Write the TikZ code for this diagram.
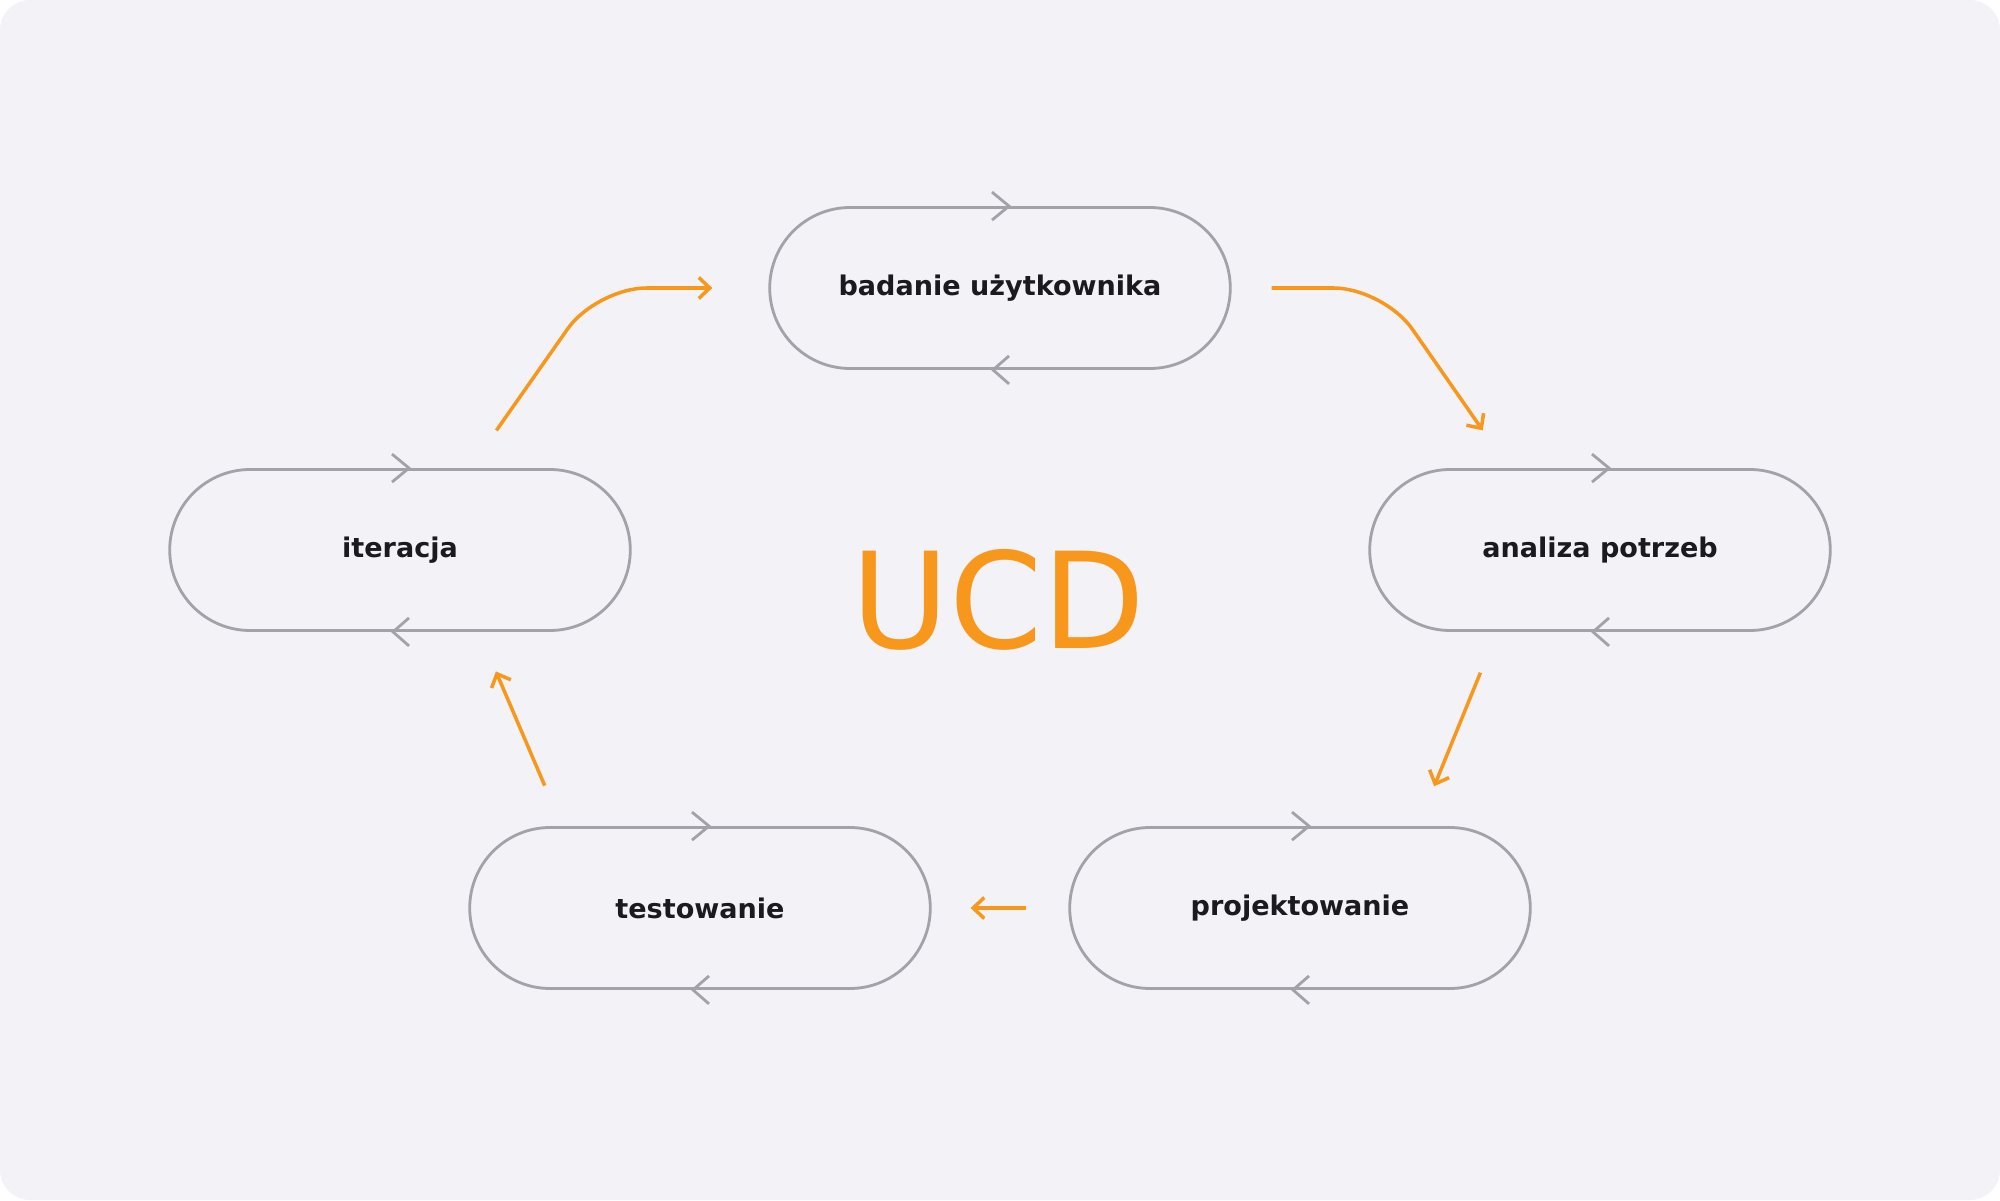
\documentclass[tikz,border=0pt]{standalone}
\usepackage{fontspec}
\setmainfont{DejaVu Sans}
\usetikzlibrary{shapes.misc,arrows.meta}
\definecolor{ucdorange}{HTML}{F7981D}
\definecolor{pillgray}{HTML}{A3A2A8}
\definecolor{bgpanel}{HTML}{F3F2F7}
\definecolor{inkdark}{HTML}{1A1A1F}

\begin{document}
\begin{tikzpicture}[
    stage/.style={rounded rectangle, draw=pillgray, line width=0.8pt,
      minimum width=4.84cm, minimum height=1.61cm, text=inkdark,
      font=\bfseries\fontsize{7.7}{9}\selectfont},
    flow/.style={draw=ucdorange, line width=1pt,
      -{Straight Barb[length=1.1mm,width=2.1mm]}},
    chev/.style={draw=pillgray, line width=0.8pt}
  ]
    \fill[bgpanel, rounded corners=0.3cm] (0,0) rectangle (20,12);
    \useasboundingbox (0,0) rectangle (20,12);

    \node[stage] (bad) at (10,9.12) {badanie użytkownika};
    \node[stage] (ite) at (4,6.5) {iteracja};
    \node[stage] (ana) at (16,6.5) {analiza potrzeb};
    \node[stage] (tes) at (7,2.92) {testowanie};
    \node[stage] (pro) at (13,2.92) {projektowanie};

    \node[text=ucdorange, font=\fontsize{38}{40}\selectfont] (ucd) at (9.985,6) {UCD};

    % little arrows running round each pill
    \foreach \s in {bad,ite,ana,tes,pro} {
      \draw[chev] ([shift={(-0.08,0.14)}]\s.north) -- ([xshift=0.09cm]\s.north)
        -- ([shift={(-0.08,-0.14)}]\s.north);
      \draw[chev] ([shift={(0.09,0.14)}]\s.south) -- ([xshift=-0.07cm]\s.south)
        -- ([shift={(0.09,-0.14)}]\s.south);
    }

    % the cycle
    \draw[flow, rounded corners=0.5cm, shorten <=0.46cm, shorten >=0.56cm]
      ([xshift=0.7cm]ite.north) -- ([xshift=-1.72cm]bad.west) -- (bad.west);
    \draw[flow, rounded corners=0.5cm, shorten <=0.4cm, shorten >=0.46cm]
      (bad.east) -- ([xshift=1.52cm]bad.east) -- ([xshift=-0.91cm]ana.north);
    \draw[flow, shorten <=0.44cm, shorten >=0.43cm]
      ([xshift=-1.03cm]ana.south) -- ([xshift=1.18cm]pro.north);
    \draw[flow, shorten <=0.42cm, shorten >=0.39cm] (pro.west) -- (tes.east);
    \draw[flow, shorten <=0.44cm, shorten >=0.43cm]
      ([xshift=-1.38cm]tes.north) -- ([xshift=0.79cm]ite.south);
  \end{tikzpicture}
\end{document}
